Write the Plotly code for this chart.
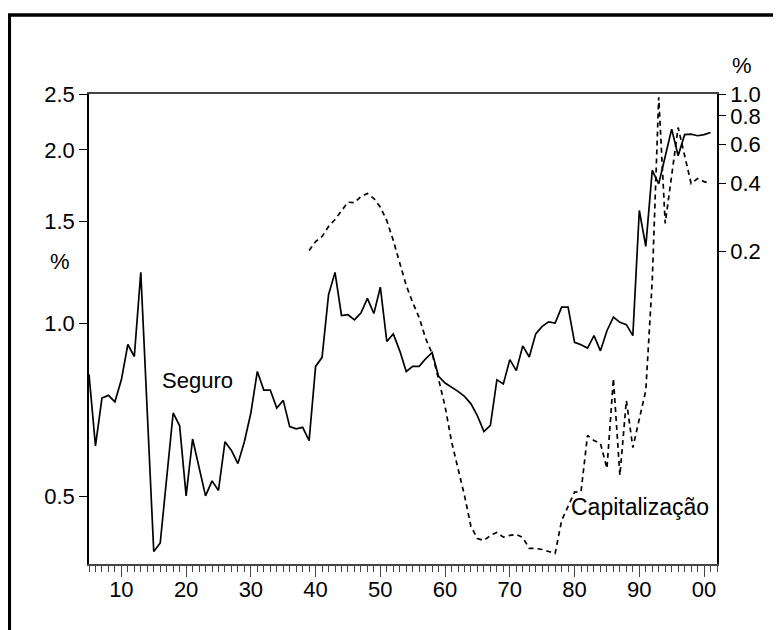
import plotly.graph_objects as go

seguro_years = list(range(1905, 2002))
seguro = [
    0.815, 0.612, 0.741, 0.749, 0.730, 0.797, 0.918, 0.875, 1.225, 0.700,
    0.401, 0.415, 0.538, 0.698, 0.663, 0.501, 0.629, 0.562, 0.501, 0.532,
    0.512, 0.622, 0.601, 0.570, 0.622, 0.698, 0.824, 0.765, 0.765, 0.712,
    0.734, 0.661, 0.655, 0.659, 0.625, 0.841, 0.872, 1.120, 1.225, 1.031,
    1.034, 1.013, 1.041, 1.104, 1.039, 1.155, 0.929, 0.958, 0.895, 0.824,
    0.841, 0.841, 0.867, 0.889, 0.808, 0.787, 0.774, 0.761, 0.746, 0.724,
    0.690, 0.648, 0.664, 0.797, 0.784, 0.864, 0.827, 0.913, 0.873, 0.958,
    0.987, 1.005, 1.000, 1.066, 1.066, 0.926, 0.917, 0.905, 0.951, 0.895,
    0.970, 1.024, 1.003, 0.994, 0.951, 1.569, 1.359, 1.842, 1.746, 1.948,
    2.173, 1.953, 2.125, 2.130, 2.116, 2.125, 2.144,
]

cap_years = list(range(1939, 2002))
capitalizacao = [
    0.2025, 0.222, 0.2336, 0.2587, 0.2778, 0.3046, 0.3315, 0.330, 0.3513, 0.3623,
    0.3443, 0.315, 0.275, 0.2243, 0.1773, 0.1417, 0.1191, 0.102, 0.0825, 0.0708,
    0.0543, 0.0412, 0.0288, 0.0221, 0.0166, 0.0121, 0.0107, 0.0105, 0.01106, 0.0114,
    0.01087, 0.01106, 0.01117, 0.01083, 0.00968, 0.00968, 0.00958, 0.00939, 0.00920, 0.01288,
    0.0150, 0.0172, 0.0173, 0.0307, 0.0291, 0.0283, 0.0219, 0.0548, 0.0204, 0.0438,
    0.0271, 0.0365, 0.0485, 0.149, 0.968, 0.267, 0.431, 0.710, 0.534, 0.401,
    0.422, 0.409, 0.401,
]

x_tickvals = [1910, 1920, 1930, 1940, 1950, 1960, 1970, 1980, 1990, 2000]
x_ticktext = ["10", "20", "30", "40", "50", "60", "70", "80", "90", "00"]
left_tickvals = [0.5, 1.0, 1.5, 2.0, 2.5]
left_ticktext = ["0.5", "1.0", "1.5", "2.0", "2.5"]
right_tickvals = [0.2, 0.4, 0.6, 0.8, 1.0]
right_ticktext = ["0.2", "0.4", "0.6", "0.8", "1.0"]

FONT = "Liberation Sans, Arial, sans-serif"

fig = go.Figure()
fig.add_trace(go.Scatter(x=seguro_years, y=seguro, mode="lines",
                         line=dict(color="black", width=1.7), yaxis="y",
                         showlegend=False))
fig.add_trace(go.Scatter(x=cap_years, y=capitalizacao, mode="lines",
                         line=dict(color="black", width=1.7, dash="5px,4px"),
                         yaxis="y2", showlegend=False))

# page body has an 8px margin: figure origin sits at screen (8, 8)
OFF = 8
W, H = 781 - OFF, 630 - OFF
L = 89 - OFF           # plot left at screen x=89
T = 94 - OFF           # plot top at screen y=94
R = W - (717 - OFF)    # plot right at screen x=717
B = H - (564 - OFF)    # plot bottom at screen y=564
pw, ph = W - L - R, H - T - B


def px(x):
    return (x - OFF - L) / pw


def py(y):
    return (H - B - (y - OFF)) / ph


fig.update_layout(
    width=W, height=H,
    margin=dict(l=L, r=R, t=T, b=B, pad=0),
    paper_bgcolor="white", plot_bgcolor="white",
    font=dict(family=FONT, size=22, color="black"),
    xaxis=dict(range=[1905, 2002], tickvals=x_tickvals, ticktext=x_ticktext,
               ticks="outside", ticklen=11, tickwidth=1, tickcolor="#444",
               ticklabelstandoff=-6,
               showline=True, linecolor="#444", linewidth=1.5, mirror=True,
               showgrid=False, zeroline=False,
               minor=dict(tickmode="linear", tick0=1905, dtick=1, ticks="outside",
                          ticklen=6, tickcolor="#444", tickwidth=1, showgrid=False),
               tickfont=dict(size=22)),
    yaxis=dict(type="log", range=[-0.4185, 0.398], tickvals=left_tickvals,
               ticktext=left_ticktext, ticks="outside", ticklen=8, tickcolor="black",
               showline=True, linecolor="black", linewidth=1.5,
               showgrid=False, zeroline=False, tickfont=dict(size=22)),
    yaxis2=dict(type="log", range=[-2.083, 0.0], tickvals=right_tickvals,
                ticktext=right_ticktext, ticks="outside", ticklen=7, tickcolor="black",
                overlaying="y", side="right",
                showline=True, linecolor="black", linewidth=1.5,
                showgrid=False, zeroline=False, tickfont=dict(size=22)),
    shapes=[dict(type="rect", xref="paper", yref="paper",
                 x0=px(9.3), x1=px(830), y0=py(680), y1=py(15),
                 line=dict(color="black", width=3.5), fillcolor="rgba(0,0,0,0)",
                 layer="above")],
    annotations=[
        dict(text="%", xref="paper", yref="paper", x=px(60), y=py(262),
             showarrow=False, xanchor="center", yanchor="middle", font=dict(size=22)),
        dict(text="%", xref="paper", yref="paper", x=px(742), y=py(66),
             showarrow=False, xanchor="center", yanchor="middle", font=dict(size=22)),
        dict(text="Seguro", xref="paper", yref="paper", x=px(197), y=py(380),
             showarrow=False, xanchor="center", yanchor="middle", font=dict(size=22)),
        dict(text="Capitalização", xref="paper", yref="paper", x=px(640), y=py(507),
             showarrow=False, xanchor="center", yanchor="middle", font=dict(size=23)),
    ],
)

fig.write_html("out.html")
